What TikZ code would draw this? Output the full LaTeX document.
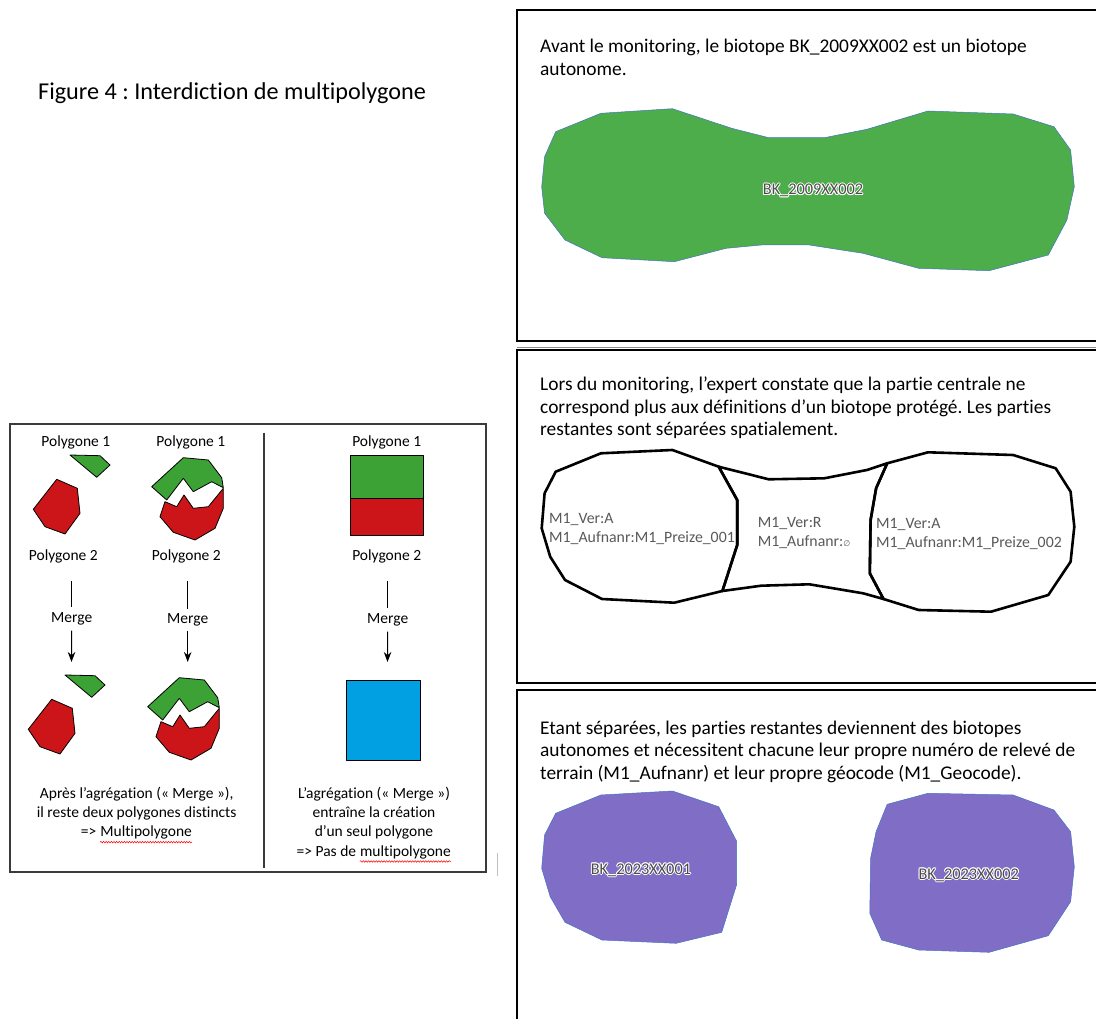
\documentclass[tikz,border=0pt]{standalone}
\usepackage{fontspec}
\setmainfont{Carlito}[Ligatures=NoCommon]
\newfontfamily\dejavu{DejaVu Sans}
\usetikzlibrary{arrows.meta,decorations.pathmorphing}
\definecolor{bgreen}{HTML}{4CAD4A}
\definecolor{bpurple}{HTML}{806EC6}
\definecolor{pgreen}{HTML}{3DA236}
\definecolor{pred}{HTML}{CC1518}
\definecolor{pblue}{HTML}{00A0E3}
\definecolor{lblgray}{HTML}{595959}
\definecolor{edgeblue}{HTML}{4472C4}
\definecolor{panelline}{HTML}{3A3A3A}
\newcommand\wavyword[1]{\tikz[baseline=(ww.base)]{\node[inner sep=0pt] (ww) {#1};
  \draw[red, line width=0.5pt, decorate, decoration={snake, amplitude=0.8pt, segment length=2.6pt}] ([yshift=-2.4pt]ww.south west) -- ([yshift=-2.4pt]ww.south east);}}
\begin{document}
\frenchspacing
\begin{tikzpicture}[x=1pt,y=-1pt,
  frame/.style={draw=black, line width=2.6pt},
  titletext/.style={anchor=base west, inner sep=0pt, font=\fontsize{24.2}{28}\selectfont},
  bodytext/.style={anchor=base west, inner sep=0pt, font=\fontsize{19.4}{23}\selectfont},
  paneltext/.style={anchor=base, inner sep=0pt, font=\fontsize{15.5}{19}\selectfont},
  attr/.style={anchor=base west, inner sep=0pt, text=lblgray, font=\fontsize{15.8}{18}\selectfont},
  lbl/.style={anchor=base, inner sep=0pt, text=black!70, font=\fontsize{16.3}{18}\selectfont},
  lblhalo/.style={lbl, text=white},
  biogreen/.style={fill=bgreen, draw=edgeblue, line width=0.5pt, line join=round},
  biopurple/.style={fill=bpurple, draw=edgeblue, line width=0.5pt, line join=round},
  part/.style={draw=black, line width=2.6pt, line join=round},
  poly/.style={draw=black, line width=0.8pt, line join=round},
  arr/.style={draw=black, line width=1pt},
  tip/.style={-{Stealth[length=10pt,width=7.5pt]}}
]
\useasboundingbox (0,0) rectangle (1096,1019);
\fill[white] (0,0) rectangle (1096,1019);
\clip (0,0) rectangle (1096,1019);

% ---------- title
\node[titletext] (title) at (38,100) {Figure 4 : Interdiction de multipolygone};

% ---------- left panel
\draw[panelline, line width=1.3pt] (10,424) rectangle (486,872);
\draw[panelline, line width=1.3pt] (264,432.7) -- (264,868);
\draw[black!25, line width=1pt] (497,853) -- (497,876);

\node[paneltext] (p1a) at (75.8,446.7) {Polygone 1};
\node[paneltext] (p1b) at (190.8,446.7) {Polygone 1};
\node[paneltext] (p1c) at (386.7,446.7) {Polygone 1};
\node[paneltext] (p2a) at (63.3,560) {Polygone 2};
\node[paneltext] (p2b) at (186.3,560) {Polygone 2};
\node[paneltext] (p2c) at (386.7,560) {Polygone 2};

\foreach \s in {0,1}{
  \begin{scope}[shift={(-5*\s,220*\s)}]
    \draw[poly, fill=pgreen] (70,455) -- (100,455.7) -- (110,465) -- (96.7,477.3) -- cycle;
    \draw[poly, fill=pred] (56.7,479.3) -- (77.3,488.3) -- (80,513.3) -- (65,534) -- (45,526.7) -- (33.3,509.3) -- cycle;
  \end{scope}
  \begin{scope}[shift={(-4*\s,220*\s)}]
    \draw[poly, fill=pgreen] (151.7,486.7) -- (183.3,457.7) -- (208.3,460) -- (221.7,477.7) -- (223.3,487.7) -- (211.7,481.7) -- (193.3,491.7) -- (183.3,478.3) -- (166.7,500) -- cycle;
    \draw[poly, fill=pred] (165,501.7) -- (176.7,506.7) -- (184,495) -- (193.3,508.3) -- (208.3,506.7) -- (223.3,488.3) -- (223.3,508.3) -- (215,528.3) -- (195,540) -- (173.3,532.3) -- (160,516.7) -- cycle;
  \end{scope}
}
\draw[poly, fill=pgreen] (350,455) rectangle (423.3,498.3);
\draw[poly, fill=pred] (350,498.3) rectangle (423.3,535);
\draw[poly, fill=pblue] (346.7,680.7) rectangle (420.7,760.7);

\node[paneltext, anchor=center, inner sep=5pt] (ma) at (71.7,619) {Merge};
\node[paneltext, anchor=center, inner sep=4pt] (mb) at (187.7,620) {Merge};
\node[paneltext, anchor=center, inner sep=5pt] (mc) at (387.7,620) {Merge};
\coordinate (ta) at (71.5,662);
\coordinate (tb) at (187.7,662);
\coordinate (tc) at (387.5,662);
\draw[arr, shorten <=18pt] (p2a.south -| ma) -- (ma);
\draw[arr, shorten <=18pt] (p2b.south -| mb) -- (mb);
\draw[arr, shorten <=18pt] (p2c.south -| mc) -- (mc);
\draw[arr, tip] (ma) -- (ta);
\draw[arr, tip] (mb) -- (tb);
\draw[arr, tip] (mc) -- (tc);

\node[paneltext] (la1) at (136.7,798.3) {Après l’agrégation (« Merge »),};
\node[paneltext] (la2) at (136.7,817.6) {il reste deux polygones distincts};
\node[paneltext] (la3) at (136.7,836.9) {=> \wavyword{Multipolygone}};
\node[paneltext] (lb1) at (374,798.3) {L’agrégation (« Merge »)};
\node[paneltext] (lb2) at (374,817.6) {entraîne la création};
\node[paneltext] (lb3) at (374,836.9) {d’un seul polygone};
\node[paneltext] (lb4) at (374,856.2) {=> Pas de \wavyword{multipolygone}};

% ---------- right frames
\draw[black!45, line width=0.8pt] (517,347.5) -- (1100,347.5);
\draw[frame] (517,10) rectangle (1102,341);
\draw[frame] (517,350) rectangle (1102,683);
\draw[frame] (517,690) rectangle (1102,1030);

% frame 1
\node[bodytext] (t1a) at (540,52.5) {Avant le monitoring, le biotope BK\_2009XX002 est un biotope};
\node[bodytext] (t1b) at (540,75.5) {autonome.};
\draw[biogreen] (555.7,131.7) -- (600.9,113.3) -- (672.4,108.7) -- (731.7,128.3) -- (768.7,137.7) -- (824.3,137.7) -- (866.9,129.3) -- (928,111) -- (1013.1,114) -- (1053.9,126.7) -- (1070.6,150) -- (1074.3,186.7) -- (1066.9,220) -- (1048.3,255) -- (989.1,270.7) -- (918.7,268.3) -- (863.1,253.3) -- (809.4,245) -- (761.3,245) -- (726.1,248.3) -- (674.3,261.7) -- (602,257.7) -- (565,240) -- (544.6,213.3) -- (541.7,186.7) -- (544.6,156.7) -- cycle;
\foreach \dx/\dy in {-1/0,1/0,0/-1,0/1,-0.7/-0.7,0.7/0.7,-0.7/0.7,0.7/-0.7}
  \node[lblhalo] at (813+\dx,195+\dy) {BK\_2009XX002};
\node[lbl] (bk1) at (813,195) {BK\_2009XX002};

% frame 2
\node[bodytext] (t2a) at (540,390.7) {Lors du monitoring, l’expert constate que la partie centrale ne};
\node[bodytext] (t2b) at (540,413.2) {correspond plus aux définitions d’un biotope protégé. Les parties};
\node[bodytext] (t2c) at (540,435.7) {restantes sont séparées spatialement.};
% left part
\draw[part] (718.7,466.7) -- (672.4,450) -- (600.9,453.3) -- (555.7,471.7) -- (544.6,493.3) -- (541.7,528.3) -- (550.2,556.7) -- (565,580) -- (602,599) -- (674.3,602.7) -- (722.4,591) -- (737.2,545) -- (737.2,500) -- cycle;
% middle part
\draw[part] (718.7,466.7) -- (768.7,479.3) -- (824.3,478.3) -- (866.9,470) -- (887.2,463.3) -- (876.1,488.3) -- (870.6,520) -- (869.8,573.3) -- (883.5,599) -- (863.1,593.3) -- (809.4,584.3) -- (761.3,585.7) -- (722.4,591) -- (737.2,545) -- (737.2,500) -- cycle;
% right part
\draw[part] (887.2,463.3) -- (928,452.3) -- (1013.1,455) -- (1055.7,468.3) -- (1070.6,491.7) -- (1074.3,526.7) -- (1070.6,561.7) -- (1048.3,595) -- (991,611.7) -- (918.7,610) -- (883.5,599) -- (869.8,573.3) -- (870.6,520) -- (876.1,488.3) -- cycle;
\node[attr] (a1) at (549,523.3) {M1\_Ver:A};
\node[attr] (a2) at (549,542.3) {M1\_Aufnanr:M1\_Preize\_001};
\node[attr] (a3) at (757.6,527.7) {M1\_Ver:R};
\node[attr] (a4) at (757.6,546.7) {M1\_Aufnanr:{\dejavu\fontsize{8}{8}\selectfont ∅}};
\node[attr] (a5) at (876,528.3) {M1\_Ver:A};
\node[attr] (a6) at (876,547.3) {M1\_Aufnanr:M1\_Preize\_002};

% frame 3
\node[bodytext] (t3a) at (540,734.3) {Etant séparées, les parties restantes deviennent des biotopes};
\node[bodytext] (t3b) at (540,756.8) {autonomes et nécessitent chacune leur propre numéro de relevé de};
\node[bodytext] (t3c) at (540,779.3) {terrain (M1\_Aufnanr) et leur propre géocode (M1\_Geocode).};
\draw[biopurple] (555.7,813.3) -- (600.9,795) -- (672.4,791) -- (718.7,806.7) -- (736.5,841) -- (736.5,885) -- (721.7,932.3) -- (676.1,943.3) -- (602,940) -- (565,922.3) -- (550.2,896.7) -- (541.7,868.3) -- (544.6,835) -- cycle;
\draw[biopurple] (887.2,804.3) -- (928,793.3) -- (1013.1,795) -- (1053.9,810) -- (1070.6,831.7) -- (1074.3,866.7) -- (1070.6,901.7) -- (1048.3,935.7) -- (989.1,952.3) -- (918.7,950) -- (881.7,940) -- (869.8,913.3) -- (870.6,858.3) -- (876.1,831.7) -- cycle;
\foreach \dx/\dy in {-1/0,1/0,0/-1,0/1,-0.7/-0.7,0.7/0.7,-0.7/0.7,0.7/-0.7}{
  \node[lblhalo] at (640.9+\dx,874+\dy) {BK\_2023XX001};
  \node[lblhalo] at (968.7+\dx,879+\dy) {BK\_2023XX002};
}
\node[lbl] (bk2) at (640.9,874) {BK\_2023XX001};
\node[lbl] (bk3) at (968.7,879) {BK\_2023XX002};
\end{tikzpicture}
\end{document}
